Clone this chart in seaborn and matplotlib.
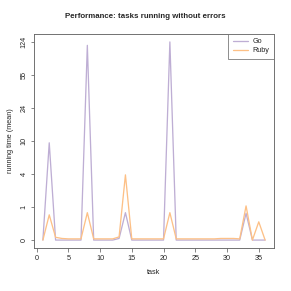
import numpy as np
import pandas as pd
import matplotlib
matplotlib.use("Agg")
import matplotlib.pyplot as plt
import seaborn as sns
from matplotlib.lines import Line2D

tasks = list(range(1, 37))
go = [0, 9.7, 0, 0, 0, 0, 0, 114, 0, 0, 0, 0, 0.04, 0.95, 0, 0, 0, 0, 0, 0,
      124, 0, 0, 0, 0, 0, 0, 0, 0, 0, 0, 0, 0.92, 0, 0, 0]
ruby = [0, 0.85, 0.07, 0.04, 0.03, 0.03, 0.03, 0.95, 0.03, 0.03, 0.03, 0.03, 0.08, 3.9,
        0.03, 0.03, 0.03, 0.03, 0.03, 0.03, 0.95, 0.03, 0.03, 0.03, 0.03, 0.03, 0.03,
        0.03, 0.04, 0.04, 0.04, 0.03, 1.3, 0, 0.56, 0]
series = ["Go", "Ruby"]
colors = ["#BEAED4", "#FDC086"]
ytick_labels = ["0", "1", "4", "10", "24", "55", "124"]
xticks = [0, 5, 10, 15, 20, 25, 30, 35]

df = pd.DataFrame({
    "task": tasks * 2,
    "value": go + ruby,
    "lang": ["Go"] * len(tasks) + ["Ruby"] * len(tasks),
})

sns.set_style("white")
plt.rcParams["font.family"] = ["Liberation Sans", "DejaVu Sans"]

fig = plt.figure(figsize=(291 / 72, 291 / 72), dpi=72)
ax = fig.add_axes([34 / 291, 1 - 248 / 291, 240 / 291, (248 - 34) / 291])

ax.set_yscale("function", functions=(np.log1p, np.expm1))
sns.lineplot(data=df, x="task", y="value", hue="lang", hue_order=series,
             palette=colors, linewidth=1.3, ax=ax, legend=False)

step = np.log(5) / 2
ytick_pos = [np.expm1(k * step) for k in range(7)]
ax.set_yticks(ytick_pos)
ax.set_yticklabels(ytick_labels, rotation=90, va="center")
ax.set_xticks(xticks)
ax.set_xticklabels([str(t) for t in xticks])
ax.minorticks_off()

lo, hi = 0, 6 * step
pad = 0.04 * (hi - lo)
ax.set_ylim(np.expm1(lo - pad), np.expm1(hi + pad))
ax.set_xlim(1 - 0.04 * 35, 36 + 0.04 * 35)

ax.tick_params(axis="both", direction="out", length=3.5, width=0.7,
               color="#555555", labelsize=7.3, pad=3, bottom=True, left=True)
for s in ax.spines.values():
    s.set_visible(True)
    s.set_color("#666666")
    s.set_linewidth(0.9)

ax.set_xlabel("task", fontsize=7.3, labelpad=8)
ax.set_ylabel("running time (mean)", fontsize=7.3, labelpad=6)
fig.suptitle("Performance: tasks running without errors", fontsize=7.9,
             fontweight="bold", y=1 - 17 / 291, va="center")

handles = [Line2D([], [], color=c, lw=1.3) for c in colors]
leg = ax.legend(handles, series, loc="upper right", fontsize=7.2, frameon=True,
                fancybox=False, borderaxespad=0, handlelength=2.2,
                handletextpad=0.6, borderpad=0.6, labelspacing=0.25)
leg.get_frame().set_edgecolor("#666666")
leg.get_frame().set_linewidth(0.9)

fig.savefig("out.png", dpi=72, facecolor="white")
